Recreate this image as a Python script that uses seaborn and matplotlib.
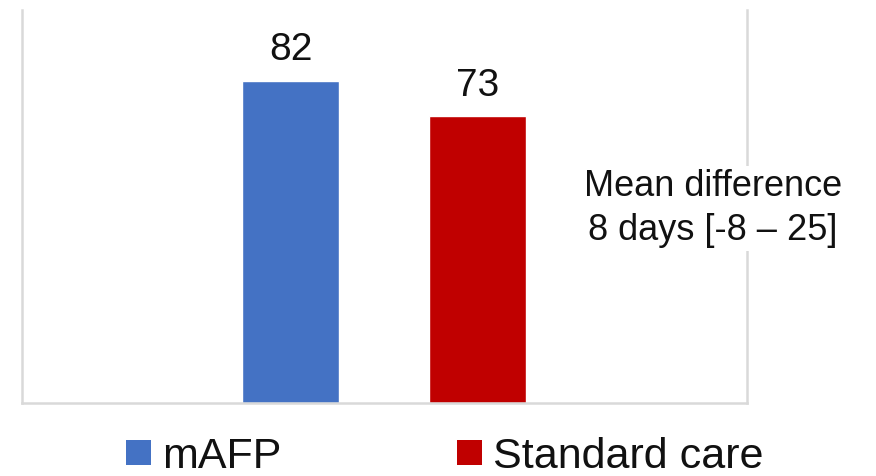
import matplotlib
matplotlib.use("Agg")
import matplotlib.pyplot as plt
import seaborn as sns
import pandas as pd
from matplotlib.patches import Patch

# Days, by study arm
groups = ["mAFP", "Standard care"]
days = [82, 73]
colors = ["#4472C4", "#C00000"]
note_lines = ["Mean difference", "8 days [-8 \u2013 25]"]

sns.set_theme(style="white")
plt.rcParams["font.family"] = ["Liberation Sans", "DejaVu Sans"]

df = pd.DataFrame({"group": groups, "days": days})

fig = plt.figure(figsize=(8.76, 4.76), dpi=100)
ax = fig.add_axes([22 / 876, 73 / 476, 725 / 876, 393 / 476])

sns.barplot(data=df, x="group", y="days", hue="group", palette=colors,
            width=0.52, legend=False, ax=ax, saturation=1)

for container in ax.containers:
    ax.bar_label(container, fmt="%d", fontsize=28, padding=9, color="#111111")

ax.set_ylim(0, 100)
ax.set_xlim(-1.436, 2.441)
ax.set_xlabel("")
ax.set_ylabel("")
ax.set_xticks([])
ax.set_yticks([])
for side in ["left", "right", "bottom"]:
    ax.spines[side].set_visible(True)
    ax.spines[side].set_color("#D9D9D9")
    ax.spines[side].set_linewidth(1.8)
ax.spines["top"].set_visible(False)

fig.text(713 / 876, 1 - 208.5 / 476, "\n".join(note_lines), ha="center", va="center",
         fontsize=26, color="#111111", linespacing=1.32,
         bbox=dict(facecolor="white", edgecolor="none", pad=2))

handles = [Patch(facecolor=c, edgecolor="none") for c in colors]
fig.legend(handles, groups, loc="center", bbox_to_anchor=(445 / 876, 1 - 457 / 476),
           ncol=2, frameon=False, fontsize=31, handlelength=0.58, handleheight=0.51,
           handletextpad=0.26, columnspacing=4.07, borderpad=0, labelcolor="#111111")

fig.savefig("out.png", dpi=100, facecolor="white")
